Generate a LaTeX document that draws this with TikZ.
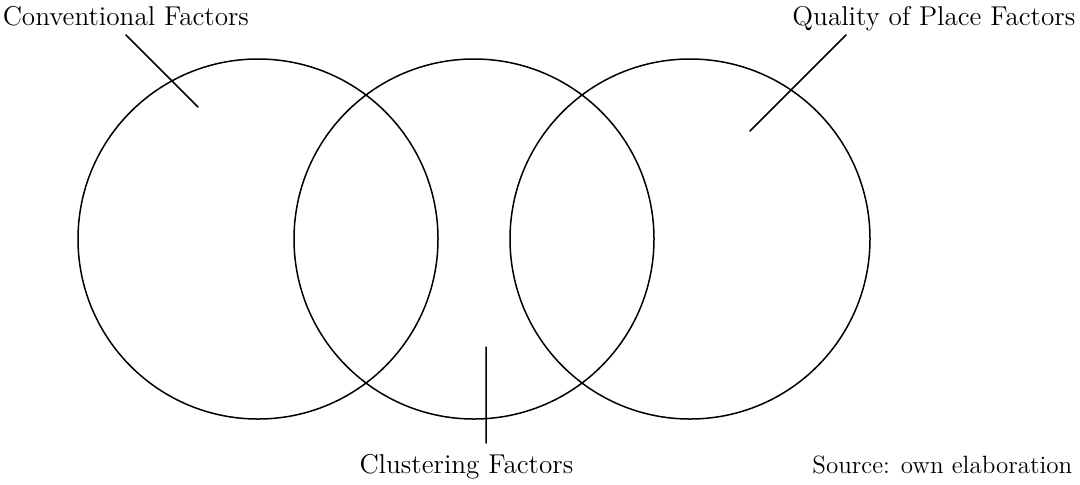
\documentclass[tikz,border=0pt]{standalone}
\begin{document}
\begin{tikzpicture}[x=0.5pt, y=-0.5pt, line width=0.75pt, line join=round, line cap=round,
  lbl/.style={inner sep=0pt, font=\fontsize{13.6}{16}\selectfont},
  srclbl/.style={inner sep=0pt, font=\fontsize{12.5}{15}\selectfont}]
\useasboundingbox(0,0)rectangle(1080,484);
\def\r{180}
\def\d{216}
\path(258,239)coordinate(C1)++(\d,0)coordinate(C2)++(\d,0)coordinate(C3);
\foreach \c in{C1,C2,C3}
\draw(\c)circle(\r);
% labels
\node[lbl, anchor=base west](conv)at(2,25){Conventional Factors};
\node[lbl, anchor=base east](qual)at(1076,25){Quality of Place Factors};
\node[lbl, anchor=base east](clus)at(574,473){Clustering Factors};
\node[srclbl, anchor=base east](src)at(1073,473){Source: own elaboration};
% leader lines
\path(126,35)coordinate(a1)(198,107)coordinate(a2);
\path(846,35)coordinate(b1)(750,131)coordinate(b2);
\path(486,347)coordinate(c1)(486,443)coordinate(c2);
\draw(a1)--(a2)(b1)--(b2)(c1)--(c2);
\end{tikzpicture}
\end{document}
